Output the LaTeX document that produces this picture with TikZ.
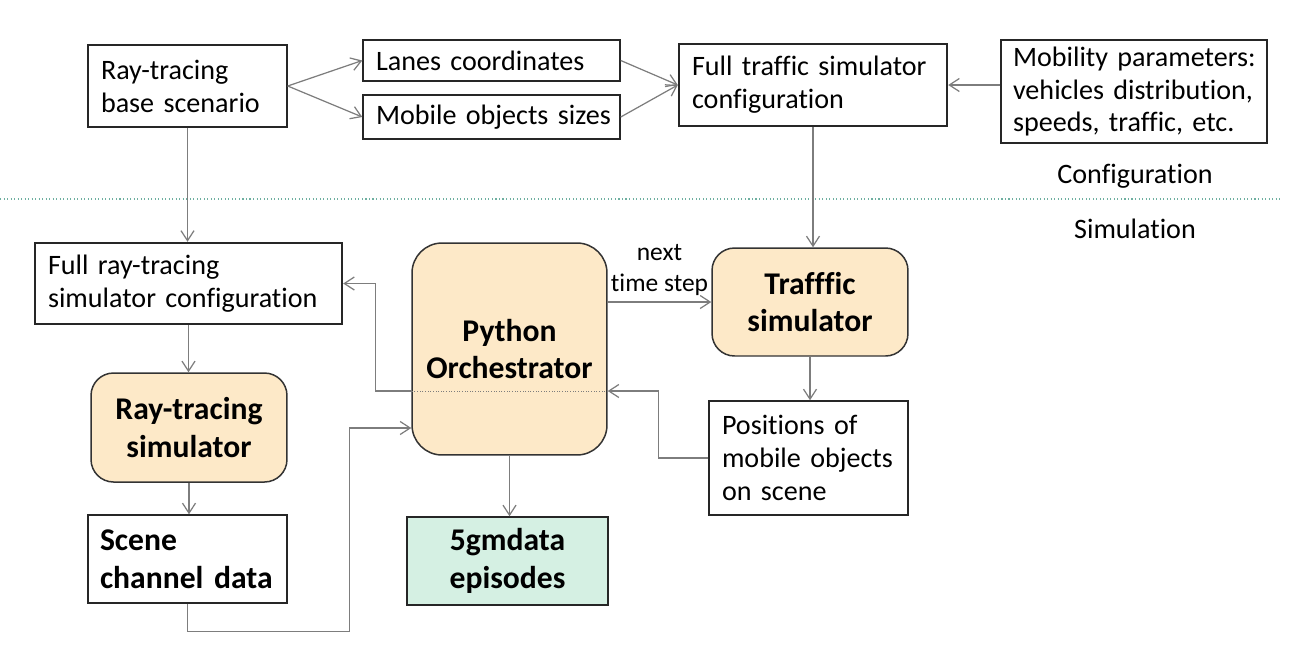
\documentclass[tikz,border=0pt]{standalone}
\usepackage{fontspec}
\setmainfont{Carlito}[Ligatures=NoCommon]
\usepackage{xcolor}
\usepackage{tikz}
\usetikzlibrary{arrows.meta,positioning}

\definecolor{peach}{RGB}{253,233,200}
\definecolor{mint}{RGB}{213,240,227}
\definecolor{wire}{RGB}{125,125,125}
\definecolor{divider}{RGB}{110,175,160}

\begin{document}
\begin{tikzpicture}[x=0.02cm,y=-0.02cm,
  txt/.style={font=\fontsize{16}{18.7}\selectfont},
  bigtxt/.style={font=\fontsize{18}{21.5}\selectfont\bfseries},
  box/.style={draw=black!85,line width=0.85pt,inner xsep=0pt,inner ysep=0pt,align=left,txt,
    execute at begin node={\leftskip=0.26cm\hyphenpenalty=10000}},
  thickbox/.style={box,line width=1.4pt},
  sim/.style={draw=black!80,line width=0.85pt,fill=peach,rounded corners=0.45cm,
    align=center,inner sep=0pt,minimum width=3.92cm,bigtxt},
  conn/.style={draw=wire,line width=0.7pt,-{Straight Barb[length=2mm,width=2.6mm]}}]
\useasboundingbox (0,0) rectangle (1294,664);
% configuration part
\node[box,text width=3.98cm,minimum height=1.64cm] (base) at (187.5,86) {Ray-tracing\\base scenario};
\node[box,text width=5.14cm,minimum height=0.82cm] (lanes) at (491.5,60.5) {Lanes coordinates};
\node[box,text width=5.14cm,minimum height=0.88cm] (sizes) at (491.5,117) {Mobile objects sizes};
\node[thickbox,text width=5.36cm,minimum height=1.64cm] (trafcfg) at (813,85) {Full traffic simulator\\configuration};
\node[box,text width=5.32cm,minimum height=2.06cm,execute at begin node={\leftskip=0.24cm}] (mobility) at (1134,91.5) {Mobility parameters:\\vehicles distribution,\\speeds, traffic, etc.};
\node[txt] (conf) at (1135,176) {Configuration};
\draw[divider,line width=0.6pt,dash pattern=on 0.6pt off 1.4pt] (0,199) -- (1280,199);
\node[txt] (simu) at (1135,229) {Simulation};
% simulation part
\node[thickbox,text width=6.14cm,minimum height=1.62cm] (raycfg) at (188.5,283.5) {Full ray-tracing\\simulator configuration};
\node[sim,minimum width=3.9cm,minimum height=4.24cm,rounded corners=0.6cm] (orch) at (509.5,349) {Python\\Orchestrator};
\node[sim,minimum height=2.16cm] (trafsim) at (810,302) {Trafffic\\simulator};
\node[sim,minimum height=2.18cm] (raysim) at (189,427.5) {Ray-tracing\\simulator};
\node[box,text width=3.98cm,minimum height=2.28cm] (positions) at (808.5,458) {Positions of\\mobile objects\\on scene};
\node[box,text width=3.98cm,minimum height=1.76cm,bigtxt,execute at begin node={\leftskip=0.24cm}] (scene) at (187.5,559) {Scene\\channel data};
\node[draw=black!85,line width=0.85pt,fill=mint,minimum width=4.02cm,minimum height=1.76cm,
  align=center,inner sep=0pt,bigtxt] (episodes) at (507.5,561) {5gmdata\\episodes};

\draw[conn] (base.east) -- (lanes.west);
\draw[conn] (base.east) -- (sizes.west);
\draw[conn] (lanes.east) -- (trafcfg.west);
\draw[conn] (sizes.east) -- (trafcfg.west);
\draw[conn] (trafcfg.east -| mobility.west) -- (trafcfg.east);
\draw[conn] (base.south) -- (base.south |- raycfg.north);
\draw[conn] (trafcfg.south) -- (trafcfg.south |- trafsim.north);
\draw[conn] (orch.east |- trafsim.west) -- node[above,font=\fontsize{14.5}{17.6}\selectfont,align=center] {next\\time step} (trafsim.west);
\draw[conn] (trafsim.south) -- (trafsim.south |- positions.north);
\draw[conn] (positions.west) -- ++(-50,0) |- ([yshift=-0.84cm]orch.east);
\draw[wire,line width=0.5pt,densely dotted] ([yshift=-0.84cm]orch.east) -- ([yshift=-0.84cm]orch.west);
\draw[conn] ([yshift=-0.84cm]orch.west) -- ++(-36,0) |- (raycfg.east);
\draw[conn] (raycfg.south) -- (raycfg.south |- raysim.north);
\draw[conn] (raysim.south) -- (raysim.south |- scene.north);
\draw[conn] (scene.south) -- ++(0,28) -- ++(162,0) |- ([yshift=-1.58cm]orch.west);
\draw[conn] (orch.south) -- (orch.south |- episodes.north);
\end{tikzpicture}
\end{document}
